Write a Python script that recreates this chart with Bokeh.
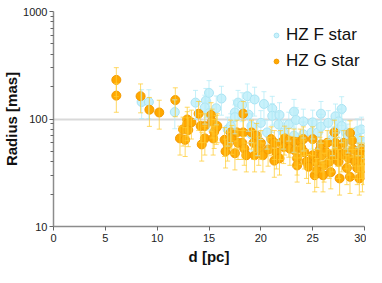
from bokeh.plotting import figure
from bokeh.models import (ColumnDataSource, Whisker, TeeHead, FixedTicker, Legend,
                          LegendItem, Range1d, PrintfTickFormatter)
from bokeh.embed import file_html
from bokeh.resources import INLINE

# ---- data ----
f_d = [8.5, 9.2, 11.7, 13.7, 14.7, 15.0, 14.6, 16.2, 16.8, 17.5, 17.5, 17.8, 18.2, 18.7,
       18.8, 19.4, 19.1, 20.0, 20.3, 20.6, 21.1, 21.1, 21.8, 21.7, 22.7, 23.2, 23.4, 24.1,
       24.1, 25.0, 24.9, 25.8, 25.5, 25.8, 26.5, 27.2, 27.5, 27.8, 27.2, 28.2, 29.3, 29.7,
       30.0, 29.4, 27.8, 28.4, 26.9, 23.2, 22.2, 19.7, 19.1, 17.1, 15.0, 15.7]
f_r = [144, 144, 116, 142, 148, 175, 128, 155, 80, 115, 104, 142, 135, 163,
       110, 152, 86, 92, 138, 75, 125, 107, 109, 89, 89, 117, 98, 95,
       72, 93, 75, 112, 75, 85, 92, 106, 95, 124, 77, 75, 77, 80,
       61, 65, 86, 69, 65, 70, 75, 65, 72, 86, 113, 126]

g_d = [6.06, 6.06, 8.4, 9.25, 10.2, 11.75, 12.2, 12.5, 12.7, 12.9, 12.9, 13.0, 13.3, 14.0,
       14.2, 14.3, 14.6, 14.6, 15.2, 15.3, 15.4, 15.5, 15.7, 15.8, 16.5, 16.6, 16.8, 17.1,
       17.2, 17.5, 17.7, 17.8, 18.2, 18.3, 18.3, 18.4, 18.6, 19.1, 19.3, 19.6, 19.4, 19.8,
       20.0, 20.2, 20.7, 21.0, 21.3, 21.3, 21.5, 21.8, 21.9, 22.2, 22.3, 22.7, 22.8, 23.2,
       23.3, 23.5, 23.5, 23.8, 23.9, 24.1, 24.2, 24.4, 24.6, 25.0, 25.0, 25.2, 25.3, 25.4,
       25.7, 25.8, 25.9, 26.0, 26.1, 26.3, 26.4, 26.6, 26.75, 26.9, 27.1, 27.2, 27.4, 27.5,
       27.6, 27.8, 28.0, 28.2, 28.3, 28.5, 28.6, 28.8, 28.6, 28.9, 29.1, 29.3, 29.4, 29.5,
       29.7, 29.7, 29.8, 29.9, 30.0]
g_r = [231, 165, 163, 122, 115, 150, 66, 80, 64, 99, 90, 79, 93, 112,
       86, 58, 86, 66, 109, 95, 66, 76, 83, 86, 64, 50, 58, 75,
       67, 48, 75, 60, 60, 112, 75, 53, 46, 75, 60, 70, 46, 53,
       60, 46, 52, 65, 60, 41, 49, 43, 60, 55, 66, 63, 53, 62,
       51, 43, 37, 62, 54, 65, 49, 40, 36, 46, 65, 30, 40, 33,
       52, 58, 46, 30, 37, 49, 60, 40, 32, 46, 75, 60, 52, 40,
       28, 46, 60, 49, 35, 43, 74, 63, 29, 52, 40, 35, 46, 28,
       53, 40, 30, 35, 46]

REL_ERR = 0.3
x_ticks = [0, 5, 10, 15, 20, 25, 30]
y_ticks = [10, 100, 1000]
y_minor = [20, 30, 40, 50, 60, 70, 80, 90, 200, 300, 400, 500, 600, 700, 800, 900]
grid_ticks = [100, 1000]

FONT = "Liberation Sans"

p = figure(width=366, height=267, output_backend="svg", toolbar_location=None,
           y_axis_type="log", x_range=Range1d(0, 30), y_range=Range1d(10, 1000),
           min_border_left=53, min_border_right=2, min_border_top=11, min_border_bottom=40)
p.outline_line_color = None
p.background_fill_color = "white"
p.border_fill_color = "white"

p.xgrid.visible = False
p.ygrid.ticker = FixedTicker(ticks=grid_ticks)
p.ygrid.grid_line_color = "#d9d9d9"
p.ygrid.grid_line_width = 2

p.xaxis.ticker = FixedTicker(ticks=x_ticks)
p.yaxis.ticker = FixedTicker(ticks=y_ticks, minor_ticks=y_minor)
p.yaxis.formatter = PrintfTickFormatter(format="%d")
for ax in (p.xaxis[0], p.yaxis[0]):
    ax.axis_line_color = "#8c8c8c"
    ax.axis_line_width = 1.5
    ax.major_tick_line_color = "#666666"
    ax.major_tick_line_width = 1
    ax.minor_tick_line_color = "#666666"
    ax.minor_tick_line_width = 1
    ax.major_tick_in = 0
    ax.major_tick_out = 4
    ax.minor_tick_in = 0
    ax.minor_tick_out = 3
    ax.major_label_text_font = FONT
    ax.major_label_text_font_size = "11px"
    ax.major_label_text_color = "#222222"
    ax.axis_label_text_font = FONT
    ax.axis_label_text_font_style = "bold"
    ax.axis_label_text_font_size = "15px"
    ax.axis_label_text_color = "#111111"
p.xaxis.minor_tick_out = 0
p.xaxis.axis_label = "d [pc]"
p.yaxis.axis_label = "Radius [mas]"
p.xaxis.major_label_standoff = 3
p.xaxis.axis_label_standoff = 3
p.yaxis.major_label_standoff = 2
p.yaxis.axis_label_standoff = 0

def add_series(d, r, fill, edge, err_color, err_alpha):
    src = ColumnDataSource(dict(x=d, y=r,
                                up=[v * (1 + REL_ERR) for v in r],
                                lo=[v * (1 - REL_ERR) for v in r]))
    w = Whisker(source=src, base="x", upper="up", lower="lo",
                line_color=err_color, line_alpha=err_alpha, line_width=1,
                upper_head=TeeHead(size=5, line_color=err_color, line_alpha=err_alpha),
                lower_head=TeeHead(size=5, line_color=err_color, line_alpha=err_alpha),
                level="glyph")
    p.add_layout(w)
    return p.scatter("x", "y", source=src, size=9, fill_color=fill,
                     line_color=edge, line_width=1)

rf = add_series(f_d, f_r, "#c8f1fb", "#a9e3f3", "#b7ecf8", 0.8)
rg = add_series(g_d, g_r, "#ffa800", "#f39a00", "#ffcc33", 0.75)

legend = Legend(items=[LegendItem(label="HZ F star", renderers=[rf]),
                       LegendItem(label="HZ G star", renderers=[rg])],
                location=(217, 155), border_line_color=None,
                background_fill_alpha=0, label_text_font=FONT,
                label_text_font_size="17px", label_text_color="#111111",
                glyph_width=12, glyph_height=14, spacing=6, margin=0,
                padding=6, label_standoff=4)
p.add_layout(legend)

open("out.html", "w").write(file_html(p, INLINE))
